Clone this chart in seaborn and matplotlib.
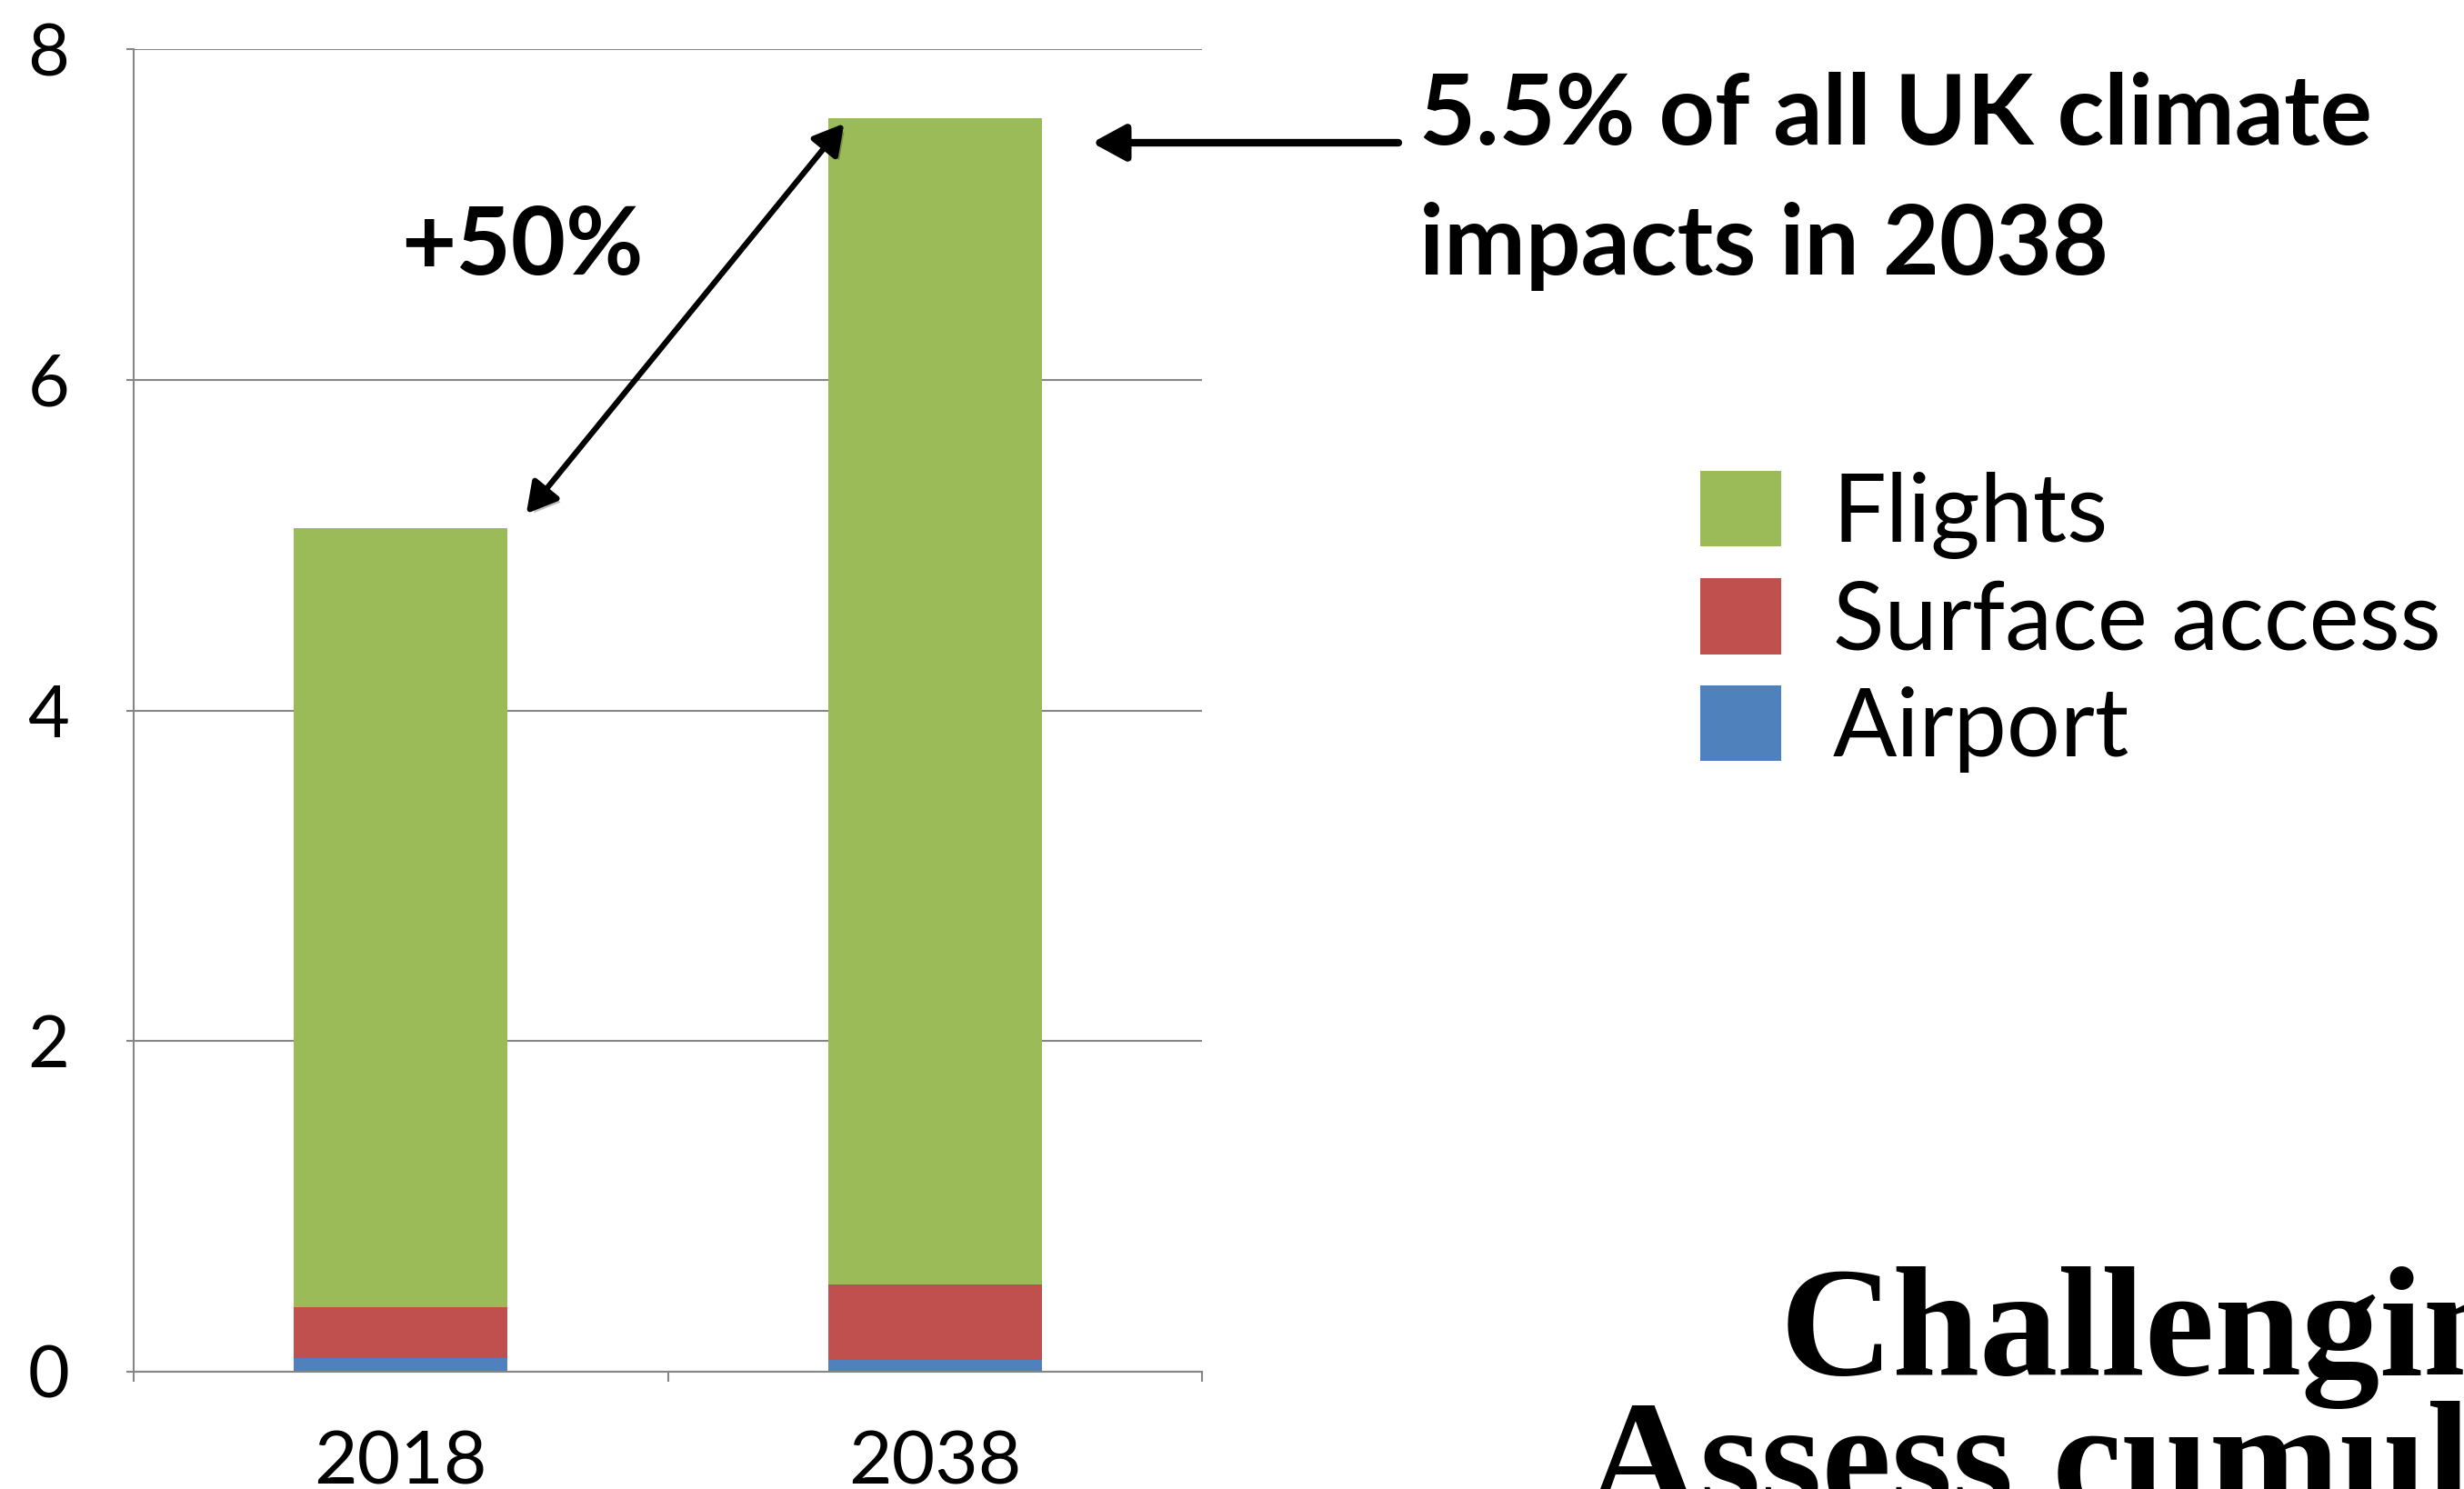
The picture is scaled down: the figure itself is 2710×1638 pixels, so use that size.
import matplotlib
matplotlib.use('Agg')
import matplotlib.pyplot as plt
import matplotlib.patheffects as pe
import seaborn as sns
import numpy as np

years = ['2018', '2038']
airport = [0.08, 0.07]
surface = [0.31, 0.46]
flights = [4.71, 7.05]
yticks = [0, 2, 4, 6, 8]

green = '#9BBB59'
red = '#C0504D'
blue = '#4F81BD'
grey = '#868686'

sns.set_style('white')
plt.rcParams['font.family'] = ['Lato', 'DejaVu Sans']
plt.rcParams['text.color'] = 'black'
plt.rcParams['xtick.color'] = 'black'
plt.rcParams['ytick.color'] = 'black'

W, H = 2710, 1638
fig = plt.figure(figsize=(W / 100, H / 100), dpi=100)
ax = fig.add_axes([147 / W, 129 / H, 1175 / W, 1455 / H])

bottom2 = np.array(airport)
bottom3 = bottom2 + np.array(surface)
sns.barplot(x=years, y=airport, color=blue, width=0.4, saturation=1, linewidth=0,
            label='Airport', ax=ax)
sns.barplot(x=years, y=surface, bottom=bottom2, color=red, width=0.4, saturation=1,
            linewidth=0, label='Surface access', ax=ax)
sns.barplot(x=years, y=flights, bottom=bottom3, color=green, width=0.4, saturation=1,
            linewidth=0, label='Flights', ax=ax)

ax.set_xlim(-0.5, 1.5)
ax.set_ylim(0, 8)
ax.set_yticks(yticks)
ax.set_yticklabels([str(t) for t in yticks])
ax.set_xticks([-0.5, 0.5, 1.5], minor=True)
ax.grid(axis='y', color=grey, linewidth=1.5)
ax.set_axisbelow(True)
for s in ['top', 'right']:
    ax.spines[s].set_visible(False)
for s in ['left', 'bottom']:
    ax.spines[s].set_color(grey)
    ax.spines[s].set_linewidth(1.5)
ax.tick_params(axis='y', which='major', left=True, length=6, color=grey, labelcolor='black',
               width=1.5, pad=45, labelsize=57)
ax.tick_params(axis='x', which='major', bottom=False, length=0, pad=46, labelsize=59,
               labelcolor='black')
ax.tick_params(axis='x', which='minor', bottom=True, length=8, color=grey, width=1.5)
ax.set_xlabel('')
ax.set_ylabel('')

# legend, reversed order
h, l = ax.get_legend_handles_labels()
ax.legend(h[::-1], l[::-1], loc='upper left', bbox_to_anchor=(1870 / W, 1 - 518 / H),
          bbox_transform=fig.transFigure, frameon=False, fontsize=75,
          handlelength=0.85, handleheight=0.85, handletextpad=0.55,
          labelspacing=0.21, borderpad=0, borderaxespad=0)

shadow = [pe.SimplePatchShadow(offset=(3, -3), alpha=0.25), pe.Normal()]

# double arrow between bar tops
ax.annotate('', xy=(0.83, 7.55), xytext=(0.235, 5.19), xycoords='data',
            arrowprops=dict(arrowstyle='<|-|>,head_length=0.5,head_width=0.28',
                            mutation_scale=40, lw=4.5, color='black',
                            shrinkA=0, shrinkB=0, path_effects=shadow))
# pointer arrow
ax.annotate('', xy=(1201, H - 157), xytext=(1538, H - 157), xycoords='figure pixels',
            textcoords='figure pixels', annotation_clip=False,
            arrowprops=dict(arrowstyle='-|>,head_length=0.55,head_width=0.3',
                            mutation_scale=40, lw=6, color='black',
                            shrinkA=0, shrinkB=0, path_effects=shadow))

fig.text(441 / W, 1 - 302 / H, '+50%', fontsize=75, fontweight='bold', va='baseline', ha='left')
fig.text(1561 / W, 1 - 159 / H, '5.5% of all UK climate', fontsize=77, fontweight='bold',
         va='baseline', ha='left')
fig.text(1561 / W, 1 - 302 / H, 'impacts in 2038', fontsize=77, fontweight='bold',
         va='baseline', ha='left')

fig.text(1958 / W, 1 - 1512 / H, 'Challenging', fontsize=124, fontweight='bold',
         family='Liberation Serif', va='baseline', ha='left')
fig.text(1745 / W, 1 - 1660 / H, 'Assess cumulative', fontsize=124, fontweight='bold',
         family='Liberation Serif', va='baseline', ha='left')

fig.savefig('out.png', dpi=100)
